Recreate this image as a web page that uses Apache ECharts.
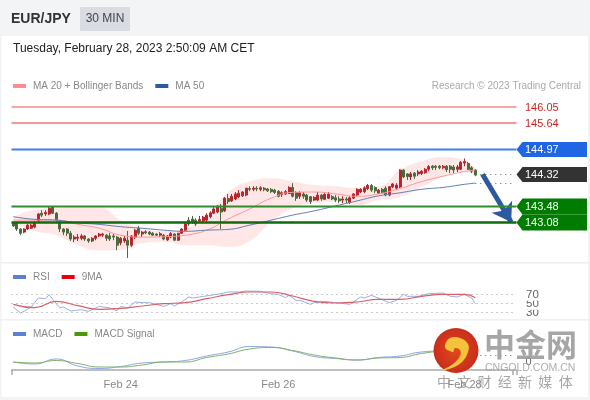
<!DOCTYPE html>
<html><head><meta charset="utf-8">
<style>html,body{margin:0;padding:0;background:#fff}#c{width:590px;height:400px}</style>
<script src="https://cdn.jsdelivr.net/npm/echarts@6/dist/echarts.min.js"></script>
</head><body><div id="c"></div>
<script>
const opens=[143.06,143.06,142.90,142.82,142.90,142.92,142.95,143.11,143.31,143.29,143.29,143.47,143.31,143.08,142.90,142.90,142.79,142.64,142.66,142.66,142.72,142.64,142.59,142.66,142.72,142.74,142.74,142.72,142.72,142.69,142.54,142.59,142.61,142.48,142.69,142.92,142.77,142.83,142.82,142.79,142.77,142.74,142.74,142.62,142.69,142.77,142.61,142.79,142.87,143.13,143.16,143.13,143.11,143.11,143.13,143.22,143.31,143.34,143.44,143.37,143.69,143.63,143.68,143.73,143.76,143.78,143.95,143.93,143.96,143.93,143.96,143.94,143.93,143.91,143.88,143.79,143.81,143.82,143.98,143.84,143.75,143.81,143.78,143.74,143.65,143.65,143.78,143.67,143.70,143.74,143.71,143.68,143.65,143.68,143.59,143.70,143.78,143.86,143.87,143.95,144.03,143.98,143.83,143.93,143.96,143.78,143.99,143.96,143.99,144.43,144.33,144.25,144.35,144.33,144.34,144.36,144.45,144.53,144.53,144.53,144.49,144.53,144.53,144.51,144.45,144.45,144.61,144.60,144.49,144.43];
const closes=[142.98,142.90,142.79,142.90,143.00,143.00,143.06,143.29,143.26,143.33,143.44,143.31,143.13,142.90,142.82,142.79,142.64,142.69,142.69,142.72,142.64,142.59,142.66,142.72,142.77,142.77,142.66,142.64,142.69,142.48,142.66,142.66,142.48,142.72,142.87,142.79,142.82,142.80,142.77,142.74,142.74,142.78,142.64,142.72,142.78,142.61,142.79,142.90,143.03,143.03,143.08,143.03,143.15,143.21,143.26,143.32,143.42,143.48,143.34,143.70,143.61,143.75,143.81,143.83,143.86,143.96,143.93,143.96,143.94,143.97,143.92,143.89,143.87,143.85,143.75,143.84,143.87,143.98,143.75,143.70,143.84,143.75,143.65,143.61,143.72,143.78,143.68,143.80,143.81,143.68,143.65,143.63,143.68,143.65,143.71,143.81,143.93,143.93,143.97,144.03,143.91,143.89,143.91,143.84,143.78,144.00,144.07,144.04,144.43,144.25,144.26,144.33,144.27,144.38,144.40,144.45,144.52,144.49,144.50,144.49,144.53,144.44,144.45,144.43,144.51,144.63,144.65,144.45,144.40,144.30];
const lows=[142.95,142.85,142.74,142.79,142.87,142.90,142.92,143.06,143.21,143.24,143.26,143.29,143.08,142.82,142.74,142.72,142.59,142.56,142.59,142.61,142.59,142.54,142.56,142.61,142.69,142.69,142.59,142.59,142.61,142.35,142.48,142.54,142.15,142.43,142.64,142.74,142.69,142.77,142.74,142.72,142.72,142.69,142.61,142.59,142.66,142.59,142.59,142.77,142.85,142.98,143.03,142.98,143.08,143.08,143.08,143.18,143.29,143.31,142.90,143.34,143.55,143.60,143.65,143.70,143.73,143.75,143.88,143.88,143.88,143.88,143.88,143.86,143.83,143.81,143.72,143.73,143.78,143.81,143.72,143.63,143.68,143.68,143.60,143.55,143.63,143.63,143.63,143.65,143.68,143.65,143.60,143.57,143.57,143.57,143.55,143.68,143.75,143.83,143.83,143.91,143.86,143.83,143.81,143.81,143.75,143.75,143.96,143.91,143.96,144.22,144.17,144.17,144.20,144.27,144.30,144.33,144.40,144.43,144.43,144.45,144.45,144.38,144.35,144.35,144.38,144.43,144.53,144.43,144.35,144.27];
const highs=[143.08,143.08,142.92,142.92,143.03,143.03,143.11,143.31,143.39,143.39,143.47,143.50,143.34,143.13,142.92,142.92,142.85,142.74,142.77,142.77,142.74,142.66,142.69,142.74,142.80,142.80,142.77,142.80,142.77,142.72,142.69,142.72,142.85,142.74,142.90,142.98,142.85,142.87,142.85,142.82,142.79,142.82,142.77,142.74,142.82,142.79,142.80,142.92,143.06,143.21,143.24,143.18,143.24,143.24,143.31,143.36,143.47,143.52,143.55,143.73,143.81,143.81,143.86,143.91,143.88,143.96,144.01,144.01,144.01,144.01,143.99,143.96,143.96,143.94,143.91,143.88,143.91,144.01,144.09,143.88,143.88,143.86,143.81,143.75,143.75,143.86,143.81,143.83,143.86,143.78,143.78,143.75,143.75,143.73,143.75,143.83,143.96,143.96,144.01,144.07,144.07,144.01,143.94,143.96,144.01,144.01,144.09,144.09,144.45,144.45,144.35,144.38,144.38,144.43,144.43,144.48,144.56,144.56,144.56,144.56,144.56,144.56,144.56,144.56,144.56,144.66,144.73,144.64,144.53,144.45];

const sampleIdx=[0,6,12,18,24,30,36,42,48,54,60,66,72,78,84,90,96,102,108,114,120,126,129];
const ma20=[143.13,143.13,143.13,143.02,142.92,142.74,142.69,142.70,142.74,142.87,143.16,143.42,143.70,143.85,143.86,143.81,143.75,143.81,143.95,144.13,144.27,144.39,144.43];
const ma50=[143.22,143.15,143.13,143.06,143.02,142.96,142.92,142.87,142.84,142.87,142.89,143.00,143.13,143.26,143.37,143.50,143.63,143.76,143.84,143.93,143.98,144.06,144.09];
const bbUpper=[143.21,143.40,143.44,143.46,143.46,143.13,142.92,142.85,142.92,143.24,143.86,144.14,144.22,144.14,144.04,144.01,143.96,144.00,144.43,144.66,144.77,144.69,144.48];
const bbLower=[143.08,142.85,142.74,142.48,142.35,142.35,142.54,142.57,142.48,142.48,142.44,142.59,143.08,143.44,143.57,143.61,143.52,143.65,143.73,143.99,144.25,144.38,144.30];

const rsiIdx=[0,2,3,5,7,9,10,12,13,14,16,19,21,24,27,29,30,32,34,36,38,41,42,44,45,47,49,50,52,55,58,60,63,65,69,72,74,76,77,79,80,83,84,87,90,94,97,98,100,103,105,107,109,110,113,116,120,122,124,126,128,129];
const rsi=[42.7,29.3,33,42.7,62.7,61,70,50,41,42.7,33.8,36.7,33,44,40.4,34.5,44,40.4,53.8,52.3,52.3,46.4,44,50,45,53.8,65,62.7,65,68.6,72.3,76,76,78.2,77.5,72.3,70.8,63.4,68.6,57,57.5,48.6,52.3,55.3,52.3,48.6,65,62.7,68.6,59,52.3,57.5,70.8,66.4,66.4,72.3,73.8,66.4,65,70.8,62.7,50];
const rsiMa=[48.6,41.2,55.3,45.6,37.5,39.7,44.9,50,52.3,61.2,70,76,76,67.1,55.3,51.6,53.8,59.7,59.7,66.4,70.8,70.8,63.4];
const macd=[0,-0.02,0.03,-0.04,-0.065,-0.045,-0.01,0,0.015,0.06,0.10,0.155,0.15,0.11,0.055,0.035,0.02,0.045,0.06,0.10,0.11,0.09,0.07];
const macdSignal=[0,-0.01,0.015,-0.015,-0.05,-0.05,-0.03,0,0,0.045,0.08,0.13,0.145,0.115,0.07,0.04,0.02,0.04,0.045,0.085,0.105,0.10,0.08];

const levels=[146.05,145.64,144.97,144.32,143.48,143.08];
const levelLabels=['146.05','145.64','144.97','144.32','143.48','143.08'];
const dateLabels={30:'Feb 24',74:'Feb 26',126:'Feb 28'};
const rsiLevels=[30,50,70];
const lastPrice=144.32, lastMa50=144.09, lastMacd=0.07;
const slots=141, lastCandle=129;

const FONT='"Liberation Sans",Arial,sans-serif';
const cats=Array.from({length:slots},(_,i)=>String(i));
const pairs=(idx,vals)=>idx.map((x,i)=>[x,vals[i]]);
const candles=opens.map((o,i)=>[o,closes[i],lows[i],highs[i]]);
const bandWidth=bbUpper.map((u,i)=>+(u-bbLower[i]).toFixed(2));

const levelStyle=[
 {line:'#f5a8a4',w:1.8,off:0,text:'#c62828'},
 {line:'#ee9a96',w:1.8,off:0,text:'#c62828'},
 {line:'#3f80ee',w:1.8,off:.5,tag:'#1f66e5',text:'#fff'},
 {line:null,tag:'#333333',text:'#fff'},
 {line:'#2e8b2e',w:2.2,off:.5,tag:'#007d00',text:'#fff',h:8},
 {line:'#0e6b0e',w:2.6,off:.5,tag:'#007d00',text:'#fff',h:8}
];
function renderLevel(params,api){
 const v=api.value(1), st=levelStyle[params.dataIndex];
 const r=api.coord([slots-1,v]), l=api.coord([0,v]);
 const right=r[0]+1.8, left=l[0]-1.8, y=Math.floor(r[1]);
 const kids=[];
 if(st.line) kids.push({type:'line',shape:{x1:left,y1:y+st.off,x2:right,y2:y+st.off},style:{stroke:st.line,lineWidth:st.w,fill:null}});
 if(st.tag){const h=st.h||7.5;
  kids.push({type:'polygon',shape:{points:[[right,y+.5],[right+6,y+.5-h],[587,y+.5-h],[587,y+.5+h],[right+6,y+.5+h]]},style:{fill:st.tag,stroke:null}});}
 kids.push({type:'text',style:{text:levelLabels[params.dataIndex],x:525,y:y+.5,fill:st.text,font:'11px '+FONT,verticalAlign:'middle',textVerticalAlign:'middle'}});
 return {type:'group',children:kids};
}
function renderRsiTick(params,api){
 const v=api.value(1), p=api.coord([slots-1,v]);
 return {type:'text',style:{text:String(v),x:525,y:p[1],fill:'#666',font:'11.5px '+FONT,verticalAlign:'middle',textVerticalAlign:'middle',backgroundColor:'#fff',padding:[0,1]}};
}
const line=(name,idx,vals,color,gridI,w,extra)=>Object.assign({name,type:'line',xAxisIndex:gridI,yAxisIndex:gridI,data:pairs(idx,vals),showSymbol:false,symbol:'none',smooth:true,clip:false,lineStyle:{color,width:w},itemStyle:{color},emphasis:{disabled:true},silent:true},extra||{});
const dot=(a,b,v)=>[{coord:[a,v]},{coord:[b,v]}];
const dotLine={silent:true,symbol:'none',animation:false,label:{show:false},lineStyle:{color:'#666',type:[1,4],width:1}};

const rect=(x,y,w,h,fill)=>({type:'rect',shape:{x,y,width:w,height:h},style:{fill},z:-10,silent:true});
const txt=(text,x,y,fill,font,align,z)=>({type:'text',x,y,style:{text,fill,font:font+' '+FONT,align:align||'left',verticalAlign:'middle'},z:z||10,silent:true});
const legendBase={left:8,itemWidth:13,itemHeight:4,itemGap:12,icon:'rect',selectedMode:false,textStyle:{color:'#888',fontSize:10,fontFamily:FONT,padding:[0,0,0,2]},padding:[0,5]};

const option={
 animation:false,backgroundColor:'#fff',
 textStyle:{fontFamily:FONT},
 legend:[
  Object.assign({},legendBase,{data:['MA 20 + Bollinger Bands','MA 50'],top:81}),
  Object.assign({},legendBase,{data:['RSI','9MA'],top:272}),
  Object.assign({},legendBase,{data:['MACD','MACD Signal'],top:329})
 ],
 grid:[
  {left:11.5,width:505,top:71,height:192.7},
  {left:11.5,width:505,top:294.7,height:18},
  {left:11.5,width:505,top:330,height:40}
 ],
 xAxis:[
  {type:'category',gridIndex:0,data:cats,show:false},
  {type:'category',gridIndex:1,data:cats,show:false},
  {type:'category',gridIndex:2,data:cats,position:'bottom',
   axisLine:{onZero:false,lineStyle:{color:'#aaa',width:1.5}},
   axisTick:{show:true,length:5,interval:(i)=>i===0||i===slots-1,lineStyle:{color:'#aaa',width:1.5}},
   axisLabel:{interval:(i)=>i in dateLabels,formatter:(v,i)=>dateLabels[i]||'',color:'#888',fontSize:11,fontFamily:FONT,margin:9,hideOverlap:false}}
 ],
 yAxis:[
  {type:'value',gridIndex:0,min:142,max:147,show:false},
  {type:'value',gridIndex:1,min:30,max:70,interval:20,position:'right',axisLine:{show:false},axisTick:{show:false},
   splitLine:{show:true,showMinLine:true,showMaxLine:true,lineStyle:{color:'#999',type:[1,4],width:1}},
   axisLabel:{show:false}},
  {type:'value',gridIndex:2,min:-0.08,max:0.32,interval:0.08,position:'right',axisLine:{show:false},axisTick:{show:false},splitLine:{show:false},
   axisLabel:{color:'#666',fontSize:11,fontFamily:FONT,margin:9,formatter:v=>Math.abs(v)<1e-9?'0':''}}
 ],
 series:[
  line('bbBase',sampleIdx,bbLower,'transparent',0,0,{stack:'bb',z:1,lineStyle:{width:0,opacity:0}}),
  line('bbBand',sampleIdx,bandWidth,'transparent',0,0,{stack:'bb',z:1,lineStyle:{width:0,opacity:0},areaStyle:{color:'#ffb9bb',opacity:.34}}),
  {name:'EUR/JPY',type:'candlestick',xAxisIndex:0,yAxisIndex:0,data:candles,barWidth:2.5,z:3,silent:true,
   itemStyle:{color:'#b5272c',color0:'#4c6b3c',borderColor:'#b5272c',borderColor0:'#4c6b3c',borderWidth:1}},
  line('MA 20 + Bollinger Bands',sampleIdx,ma20,'#ff8a8f',0,1,{z:4,lineStyle:{color:'#f79a9c',width:1}}),
  line('MA 50',sampleIdx,ma50,'#2f5a9e',0,1,{z:4,lineStyle:{color:'#5f7fb0',width:1},itemStyle:{color:'#2f5a9e'},
    markLine:Object.assign({},dotLine,{data:[dot(lastCandle,slots-1,lastMa50),dot(lastCandle,slots-1,lastPrice)]})}),
  {name:'levels',type:'custom',xAxisIndex:0,yAxisIndex:0,data:levels.map(v=>[slots-1,v]),encode:{x:0,y:1},renderItem:renderLevel,z:5,silent:true,clip:false},
  {name:'arrow',type:'line',xAxisIndex:0,yAxisIndex:0,data:[],z:6,silent:true,
    markLine:{silent:true,animation:false,symbol:['none','arrow'],symbolSize:[18,18],label:{show:false},
     lineStyle:{color:'#2c5a9e',width:5,type:'solid'},
     data:[[{coord:[131,levels[3]]},{coord:[139,levels[5]]}]]}},
  line('RSI',rsiIdx,rsi,'#5b7fd6',1,.8,{smooth:false,lineStyle:{color:'#9aaedf',width:1},itemStyle:{color:'#5b7fd6'},z:3}),
  line('9MA',sampleIdx,rsiMa,'#e8000a',1,1,{lineStyle:{color:'#d9606a',width:1.2},itemStyle:{color:'#e8000a'},z:4}),
  {name:'rsiTicks',type:'custom',xAxisIndex:1,yAxisIndex:1,data:rsiLevels.map(v=>[slots-1,v]),encode:{x:0,y:1},renderItem:renderRsiTick,z:5,silent:true,clip:false},
  line('MACD',sampleIdx,macd,'#5b7fd6',2,1,{lineStyle:{color:'#8fa6e0',width:1},itemStyle:{color:'#5b7fd6'},z:3,
    markLine:Object.assign({},dotLine,{data:[dot(lastCandle,slots-1,lastMacd)]})}),
  line('MACD Signal',sampleIdx,macdSignal,'#4a9a0a',2,1,{lineStyle:{color:'#7fb06a',width:1},itemStyle:{color:'#4a9a0a'},z:4})
 ],
 graphic:[
  rect(0,0,590,36,'#f3f4f6'),
  rect(0,0,1.5,400,'#f1f3f5'),rect(588,0,2,400,'#f1f3f5'),
  rect(0,262,590,1.5,'#eef0f3'),rect(0,319,590,1.5,'#eef0f3'),rect(0,397,590,3,'#f1f3f5'),
  {type:'rect',shape:{x:80,y:7,width:50,height:24,r:1},style:{fill:'#d9dce3'},z:1,silent:true},
  txt('EUR/JPY',11,19,'#333','bold 14px'),
  txt('30 MIN',105,19,'#444','12px','center'),
  txt('Tuesday, February 28, 2023 2:50:09 AM CET',13,48.5,'#222','12px'),
  txt('Research © 2023 Trading Central',581,86,'#aaa','10px','right'),
  {type:'circle',shape:{cx:456,cy:350.5,r:22.5},z:20,silent:true,
   style:{fill:{type:'radial',x:.5,y:.5,r:.6,colorStops:[{offset:0,color:'#e2481a'},{offset:1,color:'#c4281c'}]}}},
  {type:'polygon',z:21,silent:true,shape:{smooth:.4,points:[[445,345],[450,338],[460,338],[468,344],[468,352],[462,362],[452,368],[443,370],[453,364],[460,356],[460,350],[455,348],[453,352],[450,351],[446,349]]},style:{fill:'#f6c23c'}},
  {type:'text',x:484,y:344,z:20,silent:true,style:{text:'中金网',fill:'rgba(150,150,150,.85)',font:'bold 31px "Noto Sans CJK SC"',verticalAlign:'middle'}},
  {type:'text',x:485,y:368,z:20,silent:true,style:{text:'CNGOLD.COM.CN',fill:'rgba(160,160,160,.85)',font:'10.5px '+FONT,verticalAlign:'middle'}},
  {type:'text',x:437,y:382,z:20,silent:true,style:{text:'中  文  财  经  新  媒  体',fill:'rgba(150,150,150,.85)',font:'14px "Noto Sans CJK SC"',verticalAlign:'middle'}}
 ]
};
echarts.init(document.getElementById('c'),null,{renderer:'canvas'}).setOption(option);
</script></body></html>
